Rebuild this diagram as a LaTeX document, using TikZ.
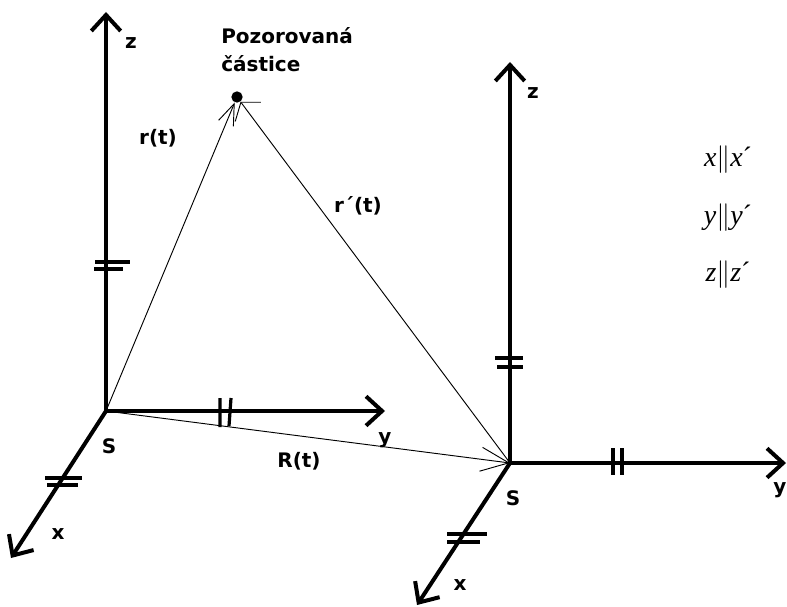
\documentclass[tikz,border=0pt]{standalone}
\usepackage{fontspec}
\setsansfont{DejaVu Sans}
\newfontfamily\timesfont{Liberation Serif}
\usetikzlibrary{arrows.meta}
\tikzset{
    % axis and vector styles
    axis/.style={line width=3pt, -{Straight Barb[length=12pt,width=22pt]}},
    vec/.style={line width=0.7pt},
    tick/.style={line width=2.4pt},
    % text styles
    lbl/.style={font=\sffamily\bfseries\fontsize{15}{21}\selectfont, inner sep=0pt},
    rel/.style={font=\timesfont\fontsize{21}{24}\selectfont, inner sep=0pt},
}

\begin{document}
\begin{tikzpicture}[x=0.75pt, y=-0.75pt]
    \useasboundingbox (0,0) rectangle (787,606);

    % System S
    \coordinate (S1) at (106,411);
    \coordinate (z1) at (106,12);
    \coordinate (y1) at (385,411);
    \coordinate (x1) at (11,558);
    % System S'
    \coordinate (S2) at (510,463);
    \coordinate (z2) at (510,62);
    \coordinate (y2) at (786,463);
    \coordinate (x2) at (417,605);

    % Particle
    \node[circle, fill, inner sep=0pt, minimum size=8.5pt] (P) at (237,97) {};
    \node[lbl, anchor=north west, align=left] (plbl) at (221,27) {Pozorovaná\\částice};

    % Axes
    \draw[axis] (S1) -- (z1);
    \draw[axis] (S1) -- (y1);
    \draw[axis] (S1) -- (x1);
    \draw[axis] (S2) -- (z2);
    \draw[axis] (S2) -- (y2);
    \draw[axis] (S2) -- (x2);

    % Vectors
    \draw[vec, -{Straight Barb[length=16pt,width=12pt]}] (S1) -- (P);
    \draw[vec, -{Straight Barb[length=9pt,width=24pt]}] (S2) -- (P);
    \draw[vec, -{Straight Barb[length=21pt,width=18pt]}] (S1) -- (S2);

    % Parallel marks
    \draw[tick] (z1 |- 0,262) ++(-11,0) -- ++(35,0) ++(-36,7) -- ++(29,0);
    \draw[tick] (z2 |- 0,358) ++(-15,0) -- ++(28,0) ++(-26,9) -- ++(26,0);
    \draw[tick] (220,398) -- ++(0,29) ++(11,-29) -- ++(-2,28);
    \draw[tick] (613,448) -- ++(0,27) ++(9,-27) -- ++(0,27);
    \draw[tick] (45,478) -- ++(37,0) ++(-35,7) -- ++(31,0);
    \draw[tick] (447,534) -- ++(40,0) ++(-40,8) -- ++(33,0);

    % Axis labels
    \node[lbl] (lz1) at (131,43) {z};
    \node[lbl] (ly1) at (385,440) {y};
    \node[lbl] (lx1) at (58,534) {x};
    \node[lbl] (lS1) at (109,446) {S};
    \node[lbl] (lz2) at (533,93) {z};
    \node[lbl] (ly2) at (780,490) {y};
    \node[lbl] (lx2) at (460,585) {x};
    \node[lbl] (lS2) at (513,498) {S};

    % Vector labels
    \node[lbl] (lr) at (158,138) {r(t)};
    \node[lbl] (lr2) at (358,206) {r´(t)};
    \node[lbl] (lR) at (299,461) {R(t)};

    % Parallel axes
    \foreach \v/\yy in {x/160, y/218, z/275} {
        \node[rel] (rel\v) at (728,\yy) {\textit{\v}$\big\|$\textit{\v}´};
    }
\end{tikzpicture}
\end{document}
